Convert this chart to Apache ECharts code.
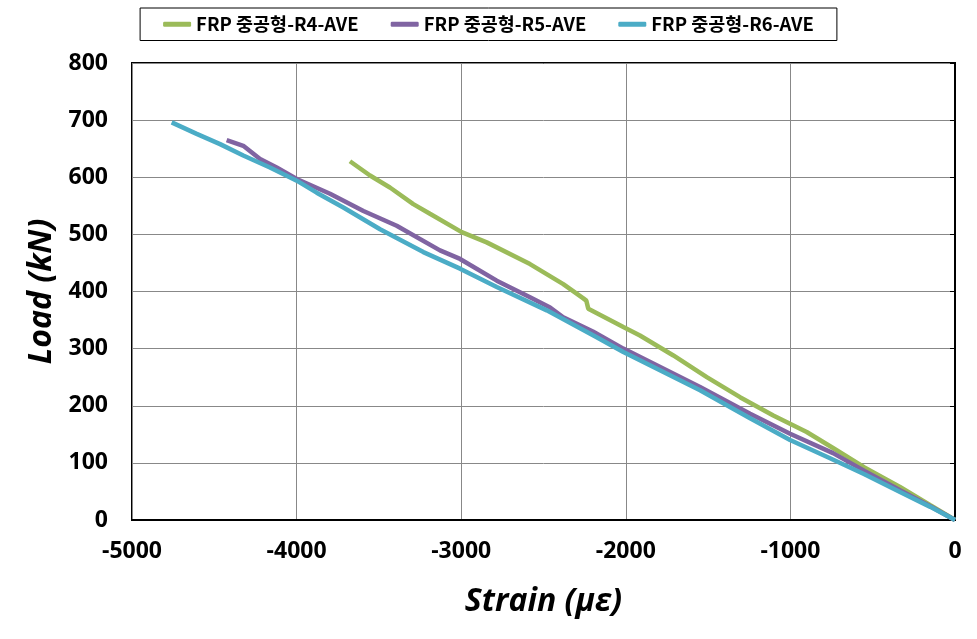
<!DOCTYPE html>
<html>
<head>
<meta charset="utf-8">
<script src="https://cdn.jsdelivr.net/npm/echarts@6/dist/echarts.min.js"></script>
<style>
  html, body { margin: 0; padding: 0; background: #fff; }
  #chart { width: 977px; height: 639px; }
</style>
</head>
<body>
<div id="chart"></div>
<script>
// [strain (με), load (kN)]
const r4Ave = [
  [0, 0], [-150, 26], [-334, 58], [-550, 92], [-741, 126], [-901, 154], [-1104, 183],
  [-1306, 215], [-1508, 250], [-1711, 288], [-1914, 323], [-2015, 338], [-2228, 370],
  [-2240, 384], [-2258, 388], [-2380, 413], [-2582, 448], [-2845, 486], [-2997, 504],
  [-3190, 536], [-3291, 553], [-3433, 582], [-3554, 603], [-3676, 628]
];
const r5Ave = [
  [0, 0], [-150, 24], [-334, 52], [-550, 86], [-741, 117], [-1002, 151], [-1245, 186],
  [-1549, 233], [-2015, 300], [-2200, 330], [-2380, 355], [-2460, 372], [-2582, 390],
  [-2784, 419], [-3007, 457], [-3129, 472], [-3392, 515], [-3594, 541], [-3797, 571],
  [-3999, 597], [-4121, 617], [-4222, 632], [-4324, 655], [-4425, 665]
];
const r6Ave = [
  [0, 0], [-150, 23], [-334, 49], [-550, 80], [-759, 108], [-1002, 140], [-1245, 178],
  [-1549, 227], [-2015, 294], [-2177, 320], [-2480, 367], [-2784, 408], [-3007, 440],
  [-3230, 469], [-3493, 509], [-3716, 547], [-3878, 573], [-3999, 594], [-4162, 617],
  [-4324, 638], [-4465, 658], [-4607, 676], [-4759, 696]
];
const seriesNames = ['FRP 중공형-R4-AVE', 'FRP 중공형-R5-AVE', 'FRP 중공형-R6-AVE'];
const seriesColors = ['#9BBB59', '#8064A2', '#4BACC6'];
const xTicks = { min: -5000, max: 0, interval: 1000 };
const yTicks = { min: 0, max: 800, interval: 100 };

const chart = echarts.init(document.getElementById('chart'));
const allData = [r4Ave, r5Ave, r6Ave];

const titleFont = {
  fontFamily: 'Open Sans',
  fontWeight: 'bold',
  fontStyle: 'italic',
  fontSize: 32,
  color: '#000'
};
const tickFont = {
  fontFamily: 'Open Sans',
  fontWeight: 'bold',
  fontSize: 23,
  color: '#000'
};

const option = {
  animation: false,
  backgroundColor: '#fff',
  legend: {
    left: 'center',
    top: 8,
    padding: [7, 23],
    icon: 'roundRect',
    itemWidth: 28,
    itemHeight: 5,
    itemGap: 32,
    borderColor: '#000',
    borderWidth: 1,
    textStyle: {
      fontFamily: 'Noto Sans CJK KR',
      fontWeight: 'bold',
      fontSize: 18.5,
      color: '#000'
    },
    data: seriesNames
  },
  grid: {
    left: 132,
    right: 22,
    top: 63,
    bottom: 119,
    show: true,
    borderColor: '#000',
    borderWidth: 2
  },
  xAxis: {
    type: 'value',
    min: xTicks.min,
    max: xTicks.max,
    interval: xTicks.interval,
    name: 'Strain (με)',
    nameLocation: 'middle',
    nameGap: 66,
    nameTextStyle: titleFont,
    axisLine: { onZero: false, lineStyle: { color: '#000', width: 2 } },
    axisTick: { show: false },
    axisLabel: Object.assign({ margin: 20, formatter: v => String(v) }, tickFont),
    splitLine: { lineStyle: { color: '#888', width: 1 } }
  },
  yAxis: {
    type: 'value',
    min: yTicks.min,
    max: yTicks.max,
    interval: yTicks.interval,
    name: 'Load (kN)',
    nameLocation: 'middle',
    nameGap: 72,
    nameTextStyle: titleFont,
    axisLine: { show: true, lineStyle: { color: '#000', width: 2 } },
    axisTick: { show: true, length: 5, lineStyle: { color: '#000' } },
    axisLabel: Object.assign({ margin: 24 }, tickFont),
    splitLine: { lineStyle: { color: '#888', width: 1 } }
  },
  series: seriesNames.map((name, i) => ({
    name: name,
    type: 'line',
    data: allData[i],
    showSymbol: false,
    symbol: 'none',
    color: seriesColors[i],
    lineStyle: { width: 4.5, color: seriesColors[i] },
    z: 2 + i
  }))
};

chart.setOption(option);
</script>
</body>
</html>
